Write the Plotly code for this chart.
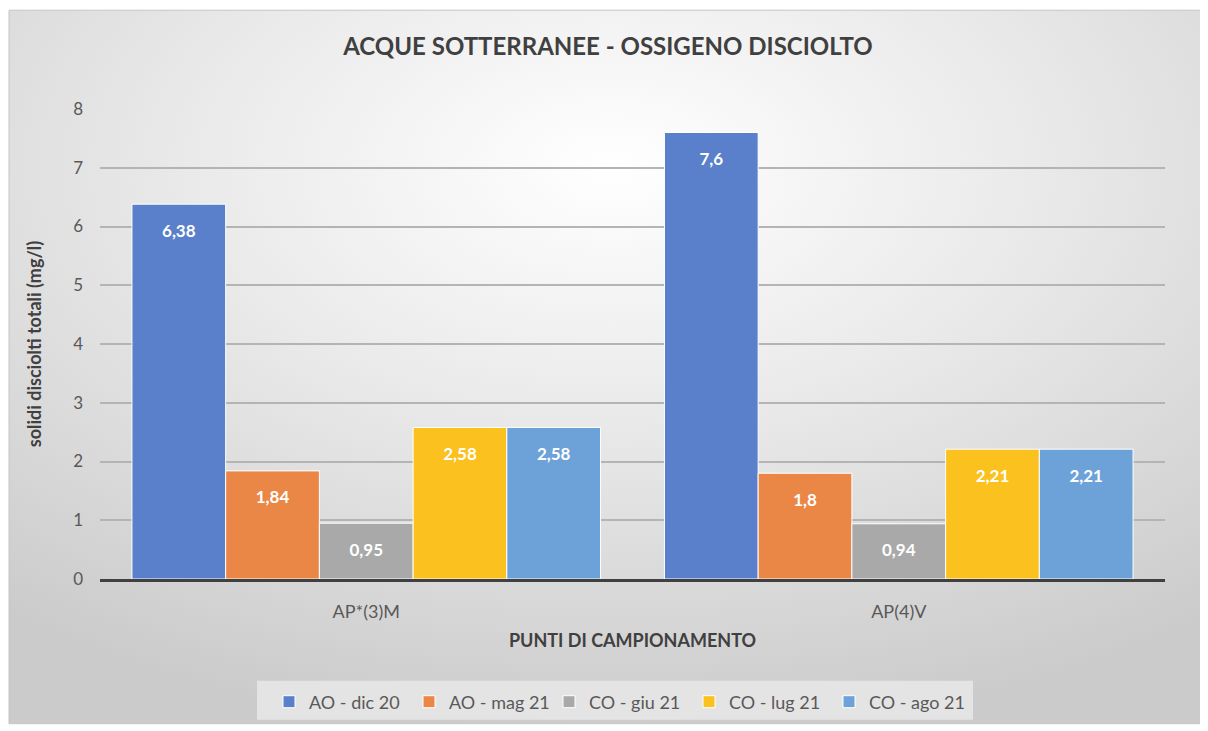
import base64
import plotly.graph_objects as go

categories = ["AP*(3)M", "AP(4)V"]
series_names = ["AO - dic 20", "AO - mag 21", "CO - giu 21", "CO - lug 21", "CO - ago 21"]
values_dic20 = [6.38, 7.6]
values_mag21 = [1.84, 1.8]
values_giu21 = [0.95, 0.94]
values_lug21 = [2.58, 2.21]
values_ago21 = [2.58, 2.21]
colors = ["#5A7FCB", "#EA8747", "#A9A9A9", "#FBC11F", "#6CA2D8"]

all_values = [values_dic20, values_mag21, values_giu21, values_lug21, values_ago21]

FONT = "Lato, Roboto, sans-serif"

OFF = 8  # page body margin
W, H = 1200, 723


def sx(p):  # screen x -> figure x
    return p - OFF


def sy(p):
    return p - OFF


L = sx(100)
R = W - sx(1165)
T = sy(109)
B = H - sy(580)
pw, ph = W - L - R, H - T - B


def px_x(p):
    return (sx(p) - L) / pw


def px_y(p):
    return (H - B - sy(p)) / ph


svg = (
    '<svg xmlns="http://www.w3.org/2000/svg" width="1200" height="716" preserveAspectRatio="none">'
    '<defs><radialGradient id="g" cx="50%" cy="22%" r="80%" fx="50%" fy="22%">'
    '<stop offset="0%" stop-color="#ffffff"/>'
    '<stop offset="45%" stop-color="#e9e9e9"/>'
    '<stop offset="100%" stop-color="#cbcbcb"/>'
    '</radialGradient></defs>'
    '<rect width="1200" height="716" fill="url(#g)"/></svg>'
)
svg_uri = "data:image/svg+xml;base64," + base64.b64encode(svg.encode()).decode()

fig = go.Figure()
for name, vals, col in zip(series_names, all_values, colors):
    fig.add_trace(go.Bar(
        x=categories, y=vals, name=name,
        marker=dict(color=col, line=dict(color="white", width=1)),
        hoverinfo="x+y+name",
    ))
# data labels: text placed just below each bar top, grouped like the bars
for name, vals in zip(series_names, all_values):
    fig.add_trace(go.Scatter(
        x=categories, y=vals, mode="markers+text", showlegend=False,
        text=[str(v).replace(".", ",") for v in vals],
        texttemplate="<b>%{text}</b>",
        textposition="bottom center",
        textfont=dict(color="white", size=17, family=FONT),
        marker=dict(size=30, opacity=0),
        hoverinfo="skip", cliponaxis=False,
    ))

fx0, fx1 = px_x(9), px_x(1215)
fy0, fy1 = px_y(725), px_y(10)

fig.add_layout_image(dict(
    source=svg_uri, xref="paper", yref="paper",
    x=fx0, y=fy1, sizex=fx1 - fx0, sizey=fy1 - fy0,
    sizing="stretch", layer="below", xanchor="left", yanchor="top",
))
fig.add_shape(type="rect", xref="paper", yref="paper",
              x0=fx0, x1=fx1, y0=fy0, y1=fy1,
              line=dict(color="#c4c4c4", width=1), layer="below")
# legend background box
fig.add_shape(type="rect", xref="paper", yref="paper",
              x0=px_x(257), x1=px_x(973), y0=px_y(721), y1=px_y(682),
              fillcolor="#e4e4e4", line=dict(width=0), layer="below")

fig.update_layout(
    width=W, height=H,
    margin=dict(l=L, r=R, t=T, b=B),
    paper_bgcolor="white", plot_bgcolor="rgba(0,0,0,0)",
    separators=",.",
    barmode="group", bargap=0.12, bargroupgap=0,
    scattermode="group", scattergap=0.12,
    font=dict(family=FONT, color="#595959", size=16),
    title=dict(text="<b>ACQUE SOTTERRANEE - OSSIGENO DISCIOLTO</b>",
               x=0.5, xref="container", y=1 - sy(47) / H, yref="container",
               yanchor="middle",
               font=dict(family=FONT, size=24, color="#404040")),
    xaxis=dict(
        title=dict(text="<b>PUNTI DI CAMPIONAMENTO</b>", standoff=14,
                   font=dict(size=18, color="#404040")),
        showgrid=False, showline=True, linecolor="#404040", linewidth=3,
        ticks="", ticklabelstandoff=14, tickfont=dict(size=18, color="#595959"),
    ),
    yaxis=dict(
        title=dict(text="<b>solidi disciolti totali (mg/l)</b>", standoff=26,
                   font=dict(size=18, color="#404040")),
        range=[0, 8], dtick=1, showgrid=True, gridcolor="#b4b4b4", gridwidth=1.5,
        zeroline=False, showline=False, ticks="", ticklabelstandoff=16,
        tickfont=dict(size=17, color="#595959"),
    ),
    legend=dict(orientation="h", x=px_x(619), xanchor="center",
                y=px_y(702), yanchor="middle",
                bgcolor="rgba(0,0,0,0)", font=dict(size=18, color="#595959"),
                itemwidth=30, traceorder="normal",
                entrywidth=95, entrywidthmode="pixels"),
)

fig.write_html("out.html")
